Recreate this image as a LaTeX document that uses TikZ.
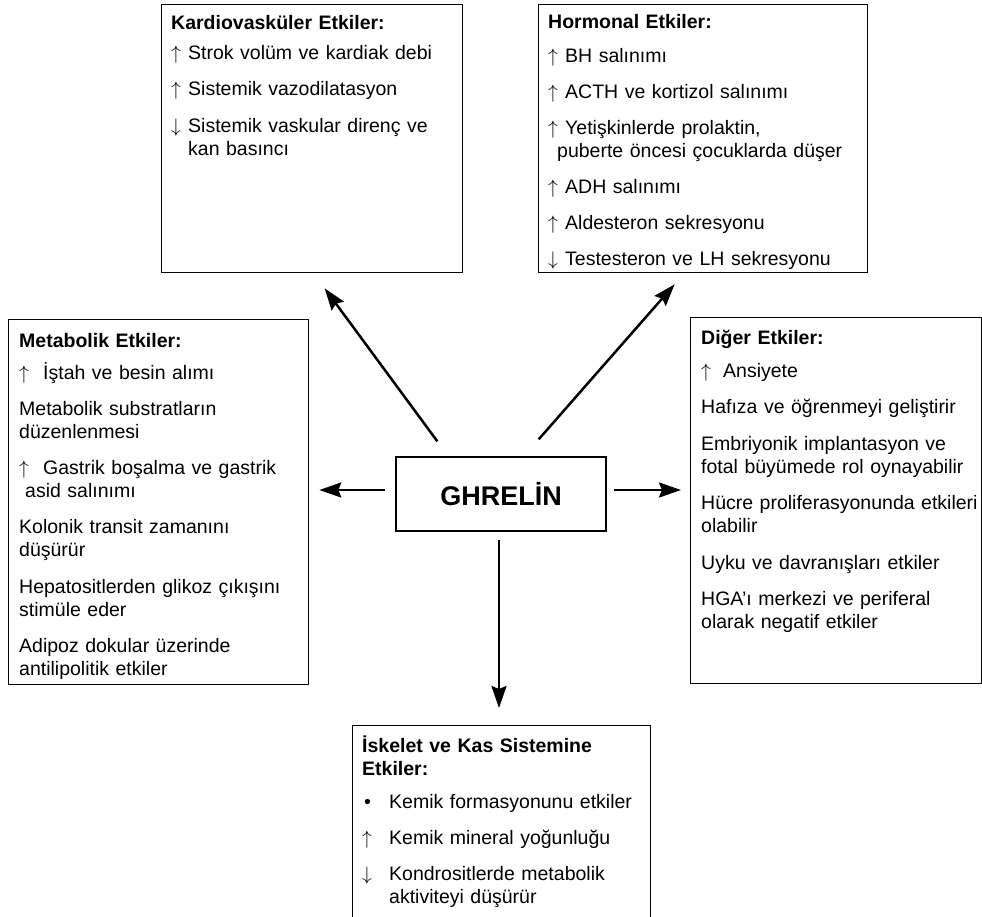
\RequirePackage{fix-cm}
\documentclass[tikz,border=0pt]{standalone}
\usepackage{fontspec}
\setmainfont{Liberation Sans}
\usetikzlibrary{arrows.meta,calc}
\newcommand\myup[1][17pt]{\makebox[#1][l]{$\uparrow$}}
\newcommand\mydn[1][17pt]{\makebox[#1][l]{$\downarrow$}}
\begin{document}
\begin{tikzpicture}[x=1pt,y=-1pt,
  box/.style={draw=black, line width=1.3pt, rectangle, inner sep=0pt, anchor=north west},
  txt/.style={anchor=base west, inner sep=0pt, align=left, text width=#1,
    font=\fontsize{19.5}{23}\selectfont},
  txt/.default=300pt,
  arr/.style={line width=2.5pt, -{Stealth[length=22pt,width=15pt,inset=3pt]}},
]
\useasboundingbox (0,0) rectangle (982,916);

% boxes
\node[box, minimum width=301pt, minimum height=268pt] (kv) at (161,4) {};
\node[box, minimum width=329pt, minimum height=268pt] (hr) at (538,4) {};
\node[box, minimum width=300pt, minimum height=365pt] (met) at (8,319) {};
\node[box, minimum width=291pt, minimum height=366pt] (dig) at (690,317) {};
\node[box, minimum width=298pt, minimum height=215pt] (isk) at (352,725) {};
\node[draw=black, line width=1.3pt, inner sep=0pt, minimum width=210pt, minimum height=74pt,
  font=\fontsize{27}{31}\selectfont\bfseries] (g) at (501,494) {GHRELİN};

% texts
\node[txt] (kvt) at (171,29) {\textbf{Kardiovasküler Etkiler:}\\[7pt]
  \myup Strok volüm ve kardiak debi\\[13.5pt]
  \myup Sistemik vazodilatasyon\\[13.5pt]
  \mydn Sistemik vaskular direnç ve\\
  \hspace*{17pt}kan basıncı};

\node[txt] (hrt) at (548,28) {\textbf{Hormonal Etkiler:}\\[11pt]
  \myup BH salınımı\\[13pt]
  \myup ACTH ve kortizol salınımı\\[13pt]
  \myup Yetişkinlerde prolaktin,\\
  \hspace*{9pt}puberte öncesi çocuklarda düşer\\[13pt]
  \myup ADH salınımı\\[13pt]
  \myup Aldesteron sekresyonu\\[13pt]
  \mydn Testesteron ve LH sekresyonu};

\node[txt] (mett) at (19,347) {\textbf{Metabolik Etkiler:}\\[9pt]
  \myup[24pt]İştah ve besin alımı\\[13.3pt]
  Metabolik substratların\\
  düzenlenmesi\\[13.3pt]
  \myup[24pt]Gastrik boşalma ve gastrik\\
  \hspace*{6pt}asid salınımı\\[13.3pt]
  Kolonik transit zamanını\\
  düşürür\\[13.3pt]
  Hepatositlerden glikoz çıkışını\\
  stimüle eder\\[13.3pt]
  Adipoz dokular üzerinde\\
  antilipolitik etkiler};

\node[txt] (digt) at (701,344) {\textbf{Diğer Etkiler:}\\[10pt]
  \myup[22pt]Ansiyete\\[13.5pt]
  Hafıza ve öğrenmeyi geliştirir\\[13.5pt]
  Embriyonik implantasyon ve\\
  fotal büyümede rol oynayabilir\\[13.5pt]
  Hücre proliferasyonunda etkileri\\
  olabilir\\[13.5pt]
  Uyku ve davranışları etkiler\\[13.5pt]
  HGA’ı merkezi ve periferal\\
  olarak negatif etkiler};

\node[txt] (iskt) at (362,752) {\textbf{İskelet ve Kas Sistemine}\\
  \textbf{Etkiler:}\\[10pt]
  \makebox[27pt][l]{\hspace*{2pt}•}Kemik formasyonunu etkiler\\[13pt]
  \myup[27pt]Kemik mineral yoğunluğu\\[13pt]
  \mydn[27pt]Kondrositlerde metabolik\\
  \hspace*{27pt}aktiviteyi düşürür};

% connectors
\draw[arr] ($(g.west)+(-10,-4)$) -- ($(met.east |- g.west)+(10,-4)$);
\draw[arr] ($(g.east)+(7,-4)$) -- ($(dig.west |- g.east)+(-9,-4)$);
\draw[arr] ($(g.south)+(-2,8)$) -- ($(isk.north -| g.south)+(-2,-17)$);
\draw[arr] ($(g.north west)+(42,-15)$) -- ($(kv.south)+(12.5,15)$);
\draw[arr] ($(g.north east)+(-68,-17)$) -- ($(hr.south)+(-28.5,11)$);
\end{tikzpicture}
\end{document}
